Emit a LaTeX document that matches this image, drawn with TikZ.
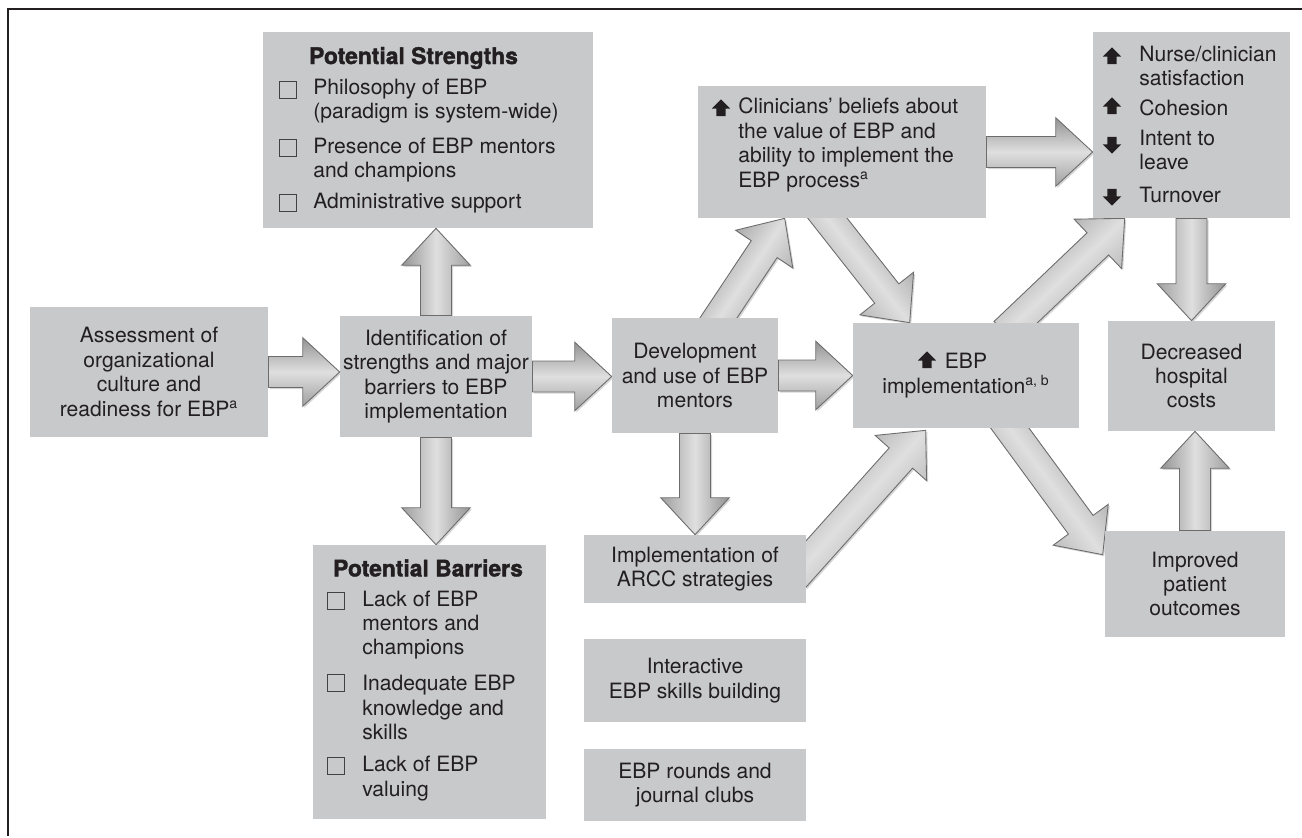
\documentclass[tikz,border=0pt]{standalone}
\usepackage{fontspec}
\setmainfont{TeX Gyre Heros}
\setsansfont{TeX Gyre Heros}
\newfontfamily\heavyfont[BoldFeatures={FakeBold=1.6}]{TeX Gyre Heros}
\usetikzlibrary{calc}
\usetikzlibrary{shapes.arrows}
\usetikzlibrary{shadows}

\definecolor{boxgray}{RGB}{200,201,203}
\definecolor{inkgray}{RGB}{35,31,32}

\pgfdeclarelayer{background}
\pgfsetlayers{background,main}

\newcommand{\shaftw}{8.8}
\newcommand{\headw}{19.5}
\newcommand{\headlen}{21}

% thick shaded arrow from one node point to another
\newcommand{\blockarrow}[2]{%
	\path #1; \pgfgetlastxy{\bxa}{\bya}
	\path #2; \pgfgetlastxy{\bxb}{\byb}
	\pgfmathsetmacro{\bang}{atan2((\byb)-(\bya),(\bxb)-(\bxa))}
	\pgfmathsetmacro{\blen}{veclen((\bxb)-(\bxa),(\byb)-(\bya))-\headlen}
	\pgfmathsetmacro{\bup}{\bang+90}
	\pgfmathsetmacro{\bdn}{\bang-90}
	\pgfmathsetmacro{\bbk}{\bang+180}
	\pgfmathsetmacro{\bstep}{\headw-\shaftw}
	\shade[blockArrowStyle, shading angle=\bang]
		($(\bxa,\bya)+(\bup:\shaftw pt)$) -- ++(\bang:\blen pt) -- ++(\bup:\bstep pt) -- (\bxb,\byb)
		-- ($(\bxb,\byb)+(\bbk:\headlen pt)+(\bdn:\headw pt)$) -- ++(\bup:\bstep pt)
		-- ($(\bxa,\bya)+(\bdn:\shaftw pt)$) -- cycle;
}

\begin{document}
\begin{tikzpicture}[x = 0.02cm, y = -0.02cm, font=\fontsize{12}{13.9}\selectfont]
	\tikzstyle{boxStyle}=[rectangle, fill = boxgray, inner sep = 0pt, align = center, text = inkgray]
	\tikzstyle{textStyle}=[inner sep = 0pt, align = left, anchor = west, text = inkgray]
	\tikzstyle{titleStyle}=[inner sep = 0pt, text = inkgray, font = \fontsize{13}{15}\selectfont\heavyfont\bfseries]
	\tikzstyle{checkStyle}=[rectangle, draw = inkgray!85, line width = 0.5pt, minimum size = 0.33cm, inner sep = 0pt]
	\tikzstyle{upStyle}=[single arrow, fill = inkgray, shape border rotate = 90, inner sep = 2.4pt, single arrow head extend = 2.6pt, minimum height = 9.5pt]
	\tikzstyle{downStyle}=[upStyle, shape border rotate = 270]
	\tikzstyle{blockArrowStyle}=[top color = gray!85, bottom color = gray!75, middle color = gray!25, draw = gray!85!black, line width = 0.5pt, drop shadow = {shadow xshift = 0.9pt, shadow yshift = -0.9pt, fill = gray!55, opacity = 0.6}]
	\useasboundingbox (0,0) rectangle (1302,838);
	\draw[line width = 1.1pt, inkgray] (1302,9) -- (8,9) -- (8,836);
	% main chain
	\node[boxStyle, minimum width = 4.76cm, minimum height = 2.6cm] (assess) at (149,372) {Assessment of\\organizational\\culture and\\readiness for EBP\textsuperscript{a}};
	\node[boxStyle, minimum width = 3.84cm, minimum height = 2.42cm] (ident) at (436,376.5) {Identification of\\strengths and major\\barriers to EBP\\implementation};
	\node[boxStyle, minimum width = 3.32cm, minimum height = 2.3cm] (dev) at (695,375.5) {Development\\and use of EBP\\mentors};
	\node[boxStyle, minimum width = 4.44cm, minimum height = 1.36cm] (arcc) at (695,569) {Implementation of\\ARCC strategies};
	\node[boxStyle, minimum width = 4.44cm, minimum height = 1.66cm] (skills) at (695,680.5) {Interactive\\EBP skills building};
	\node[boxStyle, minimum width = 4.44cm, minimum height = 1.44cm] (rounds) at (695,785) {EBP rounds and\\journal clubs};
	\node[boxStyle, minimum width = 4.52cm, minimum height = 2.1cm] (impl) at (966,375.5) {EBP\\implementation\textsuperscript{a, b}};
	\node[upStyle] (implUp) at (927,362) {};
	\node[boxStyle, minimum width = 3.34cm, minimum height = 2.2cm] (costs) at (1191.5,376) {Decreased\\hospital\\costs};
	\node[boxStyle, minimum width = 3.6cm, minimum height = 2.12cm] (outcomes) at (1195,584) {Improved\\patient\\outcomes};
	% strengths
	\node[boxStyle, minimum width = 6.6cm, minimum height = 3.92cm] (strengths) at (428,130) {};
	\node[titleStyle] (strTitle) at (413.5,58) {Potential Strengths};
	\node[checkStyle] (strBox1) at (288,90) {};
	\node[textStyle] (strItem1) at (313,101) {Philosophy of EBP\\(paradigm is system-wide)};
	\node[checkStyle] (strBox2) at (288,148) {};
	\node[textStyle] (strItem2) at (313,160) {Presence of EBP mentors\\and champions};
	\node[checkStyle] (strBox3) at (288,203) {};
	\node[textStyle] (strItem3) at (313,203) {Administrative support};
	% barriers
	\node[boxStyle, minimum width = 4.66cm, minimum height = 5.48cm] (barriers) at (429.5,682) {};
	\node[titleStyle] (barTitle) at (428,568) {Potential Barriers};
	\node[checkStyle] (barBox1) at (336,601) {};
	\node[textStyle] (barItem1) at (362,625) {Lack of EBP\\mentors and\\champions};
	\node[checkStyle] (barBox2) at (336,683) {};
	\node[textStyle] (barItem2) at (362,707.5) {Inadequate EBP\\knowledge and\\skills};
	\node[checkStyle] (barBox3) at (336,766) {};
	\node[textStyle] (barItem3) at (362,778.5) {Lack of EBP\\valuing};
	% clinicians
	\node[boxStyle, minimum width = 5.76cm, minimum height = 2.64cm] (clin) at (842,152) {};
	\node[upStyle] (clinUp) at (721,110) {};
	\node[textStyle] (clinText) at (738,145) {Clinicians' beliefs about\\the value of EBP and\\ability to implement the\\EBP process\textsuperscript{a}};
	% nurse outcomes
	\node[boxStyle, minimum width = 3.94cm, minimum height = 3.72cm] (nurse) at (1191.5,125) {};
	\node[upStyle] (nurseUp1) at (1112,58) {};
	\node[textStyle] (nurseItem1) at (1139,66) {Nurse/clinician\\satisfaction};
	\node[upStyle] (nurseUp2) at (1112,108) {};
	\node[textStyle] (nurseItem2) at (1139,108) {Cohesion};
	\node[downStyle] (nurseDown1) at (1112,143) {};
	\node[textStyle] (nurseItem3) at (1139,150) {Intent to\\leave};
	\node[downStyle] (nurseDown2) at (1112,195) {};
	\node[textStyle] (nurseItem4) at (1139,195) {Turnover};
	% arrows
	\begin{pgfonlayer}{background}
	\blockarrow{(assess.east)}{(assess.east -| ident.west)}
	\blockarrow{(ident.north)}{(ident.north |- strengths.south)}
	\blockarrow{(ident.south)}{(ident.south |- barriers.north)}
	\blockarrow{(ident.east)}{(ident.east -| dev.west)}
	\blockarrow{(dev.east)}{(dev.east -| impl.west)}
	\blockarrow{(dev.south)}{(dev.south |- arcc.north)}
	\blockarrow{($(dev.north)+(17,10)$)}{($(clin.south west)+(87,0)$)}
	\blockarrow{($(clin.south west)+(122,-10)$)}{($(impl.north west)+(57,0)$)}
	\blockarrow{(clin.east)}{(clin.east -| nurse.west)}
	\blockarrow{($(impl.north west)+(152,10)$)}{($(nurse.south west)+(32,0)$)}
	\blockarrow{(nurse.south)}{(costs.north)}
	\blockarrow{(outcomes.north)}{(outcomes.north |- costs.south)}
	\blockarrow{($(impl.south west)+(150,-10)$)}{($(outcomes.north west)+(-2,24)$)}
	\blockarrow{($(arcc.east)+(-12,8)$)}{($(impl.south west)+(73,2)$)}
	\end{pgfonlayer}
\end{tikzpicture}
\end{document}
